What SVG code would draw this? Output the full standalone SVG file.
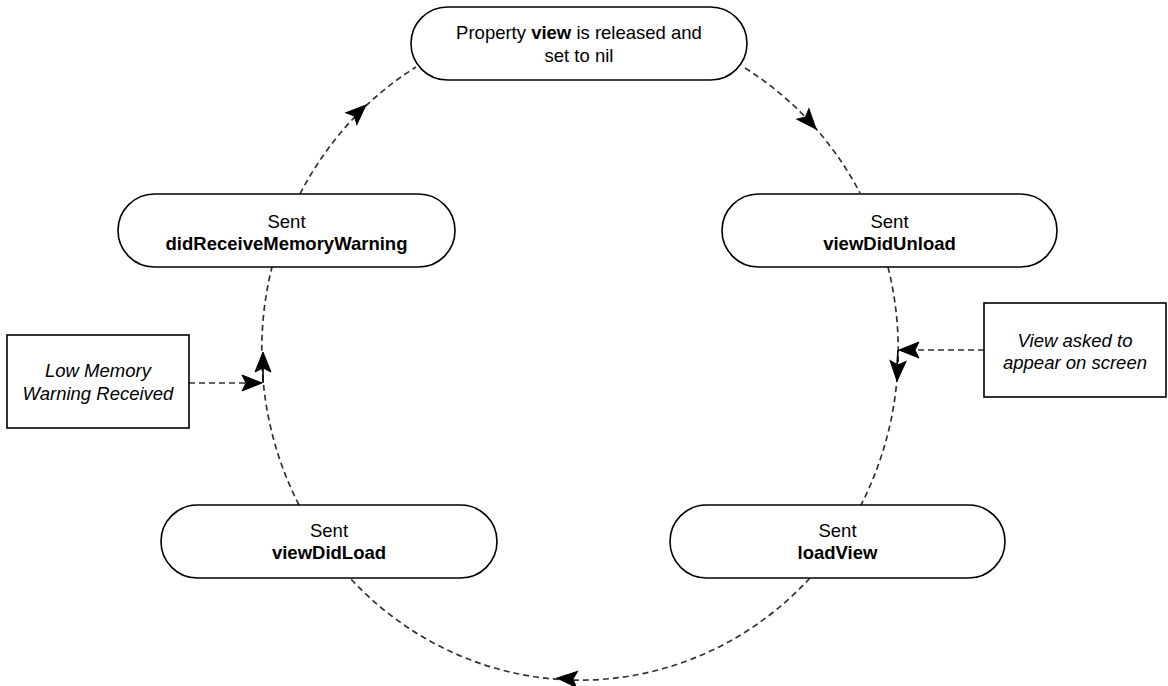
<svg xmlns="http://www.w3.org/2000/svg" width="1168" height="686" viewBox="0 0 1168 686">
<style>
.node{fill:#fff;stroke:#000;stroke-width:1.6}
.t{font-family:"Liberation Sans",Arial,sans-serif;font-size:18.5px;fill:#000;text-anchor:middle}
.b{font-weight:bold}
.i{font-style:italic}
.dash{fill:none;stroke:#333;stroke-width:1.7;stroke-dasharray:6 4}
.stem{fill:none;stroke:#000;stroke-width:1.6}
.ah{fill:#000;stroke:#000;stroke-width:1}
</style>
<defs>
<polygon id="arr" points="0,0 -20,-8 -16,0 -20,8"/>
</defs>
<rect width="1168" height="686" fill="#fff"/>
<g id="connectors">
<path class="dash" d="M745,68 A318,330 0 0 1 860,193"/>
<path class="dash" d="M888,267 A318,330 0 0 1 861,505"/>
<path class="dash" d="M810,578 A318,330 0 0 1 350,578"/>
<path class="dash" d="M299,505 A318,330 0 0 1 272,267"/>
<path class="dash" d="M300,194 A318,330 0 0 1 416,67"/>
<line class="dash" x1="984" y1="350" x2="905" y2="350"/>
<line class="dash" x1="189" y1="383" x2="255" y2="383"/>
<line class="stem" x1="898" y1="350" x2="897" y2="366"/>
<line class="stem" x1="263" y1="383" x2="263" y2="368"/>
<use href="#arr" class="ah" transform="translate(366,105) rotate(-43)"/>
<use href="#arr" class="ah" transform="translate(816,129) rotate(49)"/>
<use href="#arr" class="ah" transform="translate(897,381) rotate(93)"/>
<use href="#arr" class="ah" transform="translate(899,350) rotate(180)"/>
<use href="#arr" class="ah" transform="translate(557,678) rotate(184)"/>
<use href="#arr" class="ah" transform="translate(263,352) rotate(-90)"/>
<use href="#arr" class="ah" transform="translate(262,383) rotate(0)"/>
</g>
<g id="node-released">
<rect class="node" x="411" y="7" width="336" height="73" rx="36.5"/>
<text class="t" x="579" y="38.5">Property <tspan class="b">view</tspan> is released and</text>
<text class="t" x="579" y="61.5">set to nil</text>
</g>
<g id="node-didReceiveMemoryWarning">
<rect class="node" x="118" y="194" width="337" height="73" rx="36.5"/>
<text class="t" x="286.5" y="227.5">Sent</text>
<text class="t b" x="286.5" y="249.5">didReceiveMemoryWarning</text>
</g>
<g id="node-viewDidUnload">
<rect class="node" x="722" y="194" width="335" height="73" rx="36.5"/>
<text class="t" x="889.5" y="227.5">Sent</text>
<text class="t b" x="889.5" y="249.5">viewDidUnload</text>
</g>
<g id="node-viewDidLoad">
<rect class="node" x="161" y="505" width="336" height="73" rx="36.5"/>
<text class="t" x="329" y="536.5">Sent</text>
<text class="t b" x="329" y="558.5">viewDidLoad</text>
</g>
<g id="node-loadView">
<rect class="node" x="670" y="505" width="335" height="73" rx="36.5"/>
<text class="t" x="837.5" y="536.5">Sent</text>
<text class="t b" x="837.5" y="558.5">loadView</text>
</g>
<g id="node-lowMemory">
<rect class="node" x="7" y="335" width="182" height="93"/>
<text class="t i" x="98" y="377">Low Memory</text>
<text class="t i" x="98" y="399.5">Warning Received</text>
</g>
<g id="node-viewAsked">
<rect class="node" x="984" y="303" width="182" height="94"/>
<text class="t i" x="1075" y="346.5">View asked to</text>
<text class="t i" x="1075" y="368.5">appear on screen</text>
</g>
</svg>
